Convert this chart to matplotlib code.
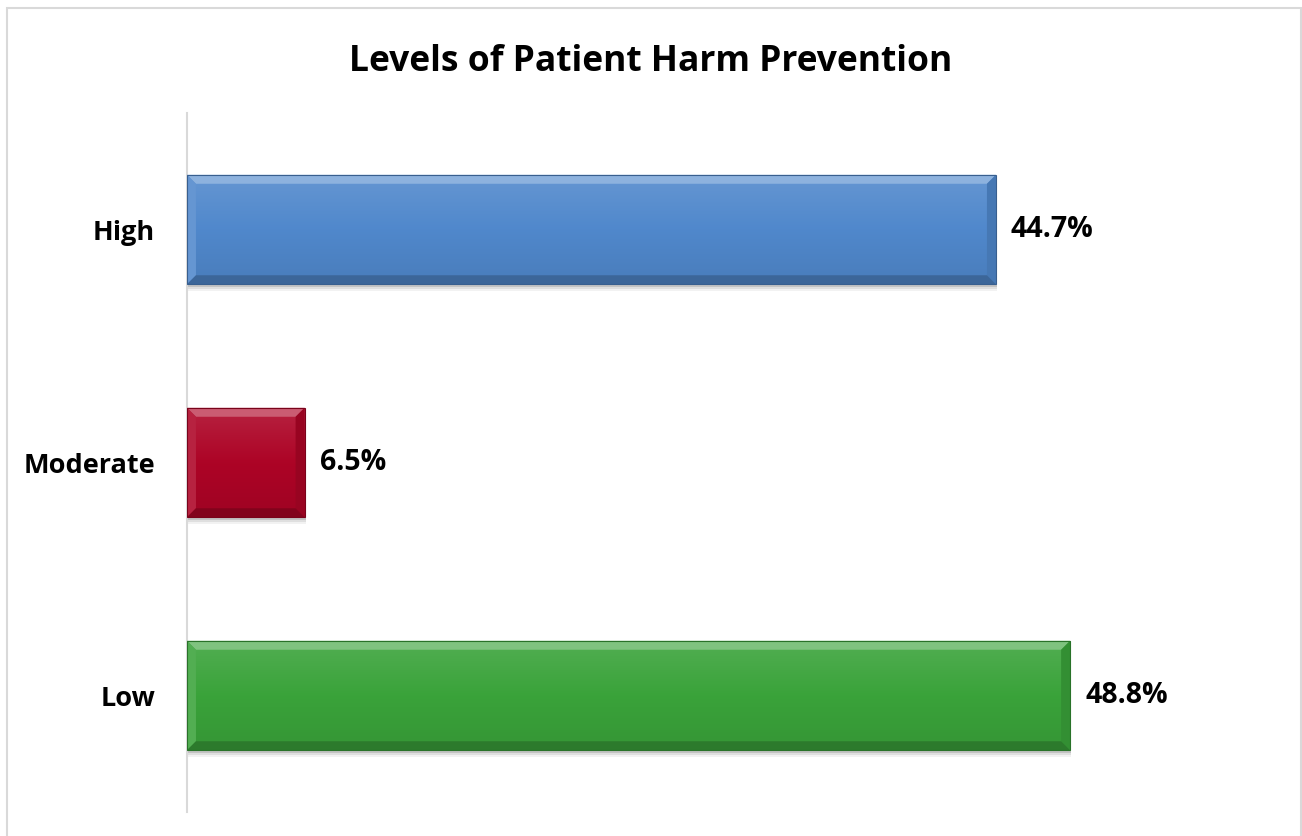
import matplotlib
matplotlib.use("Agg")
import matplotlib.pyplot as plt
import matplotlib.colors as mcolors
from matplotlib.patches import Polygon, Rectangle
import numpy as np

# Data
categories = ["High", "Moderate", "Low"]
values = [44.7, 6.5, 48.8]
labels = ["44.7%", "6.5%", "48.8%"]
bar_colors = ["#5088CC", "#AD0426", "#3AA33A"]

plt.rcParams["font.family"] = ["Open Sans", "DejaVu Sans"]

fig = plt.figure(figsize=(13.02, 8.36), dpi=100)
ax = fig.add_axes([0.1436, 0.0287, 0.834, 0.8361])

ypos = np.arange(len(categories))
bars = ax.barh(ypos, values, height=0.47, color=bar_colors, zorder=3)

ax.set_xlim(0, 60)
ax.set_ylim(2.5, -0.5)
ax.set_yticks(ypos)
ax.set_yticklabels(categories, fontsize=19.5, fontweight="bold")
ax.tick_params(axis="y", length=0, pad=23)
ax.set_xticks([])
for side in ["top", "right", "bottom"]:
    ax.spines[side].set_visible(False)
ax.spines["left"].set_color("#d9d9d9")
ax.spines["left"].set_linewidth(1.5)

# pixel -> data conversion for bevel sizes
fig.canvas.draw()
p0 = ax.transData.transform((0, 0))
p1 = ax.transData.transform((1, 1))
ux = 1 / abs(p1[0] - p0[0])
uy = 1 / abs(p1[1] - p0[1])


def shade(c, f):
    r, g, b = mcolors.to_rgb(c)
    if f > 0:
        return (r + (1 - r) * f, g + (1 - g) * f, b + (1 - b) * f)
    return (r * (1 + f), g * (1 + f), b * (1 + f))


for bar, c, lab in zip(bars, bar_colors, labels):
    x0, y0 = bar.get_x(), bar.get_y()
    w, h = bar.get_width(), bar.get_height()
    x1, y1 = x0 + w, y0 + h  # y0 is top (inverted axis)
    # vertical gradient on face
    grad = np.linspace(0, 1, 64).reshape(-1, 1)
    cmap = mcolors.LinearSegmentedColormap.from_list(
        "g", [shade(c, 0.12), c, shade(c, -0.08)])
    im = ax.imshow(grad, cmap=cmap, aspect="auto", extent=(x0, x1, y1, y0),
                   zorder=4, interpolation="bicubic")
    im.set_clip_path(bar)
    # soft shadow
    for k, a in [(7, 0.05), (5, 0.08), (3, 0.12)]:
        ax.add_patch(Rectangle((x0 + 1 * ux, y0 + k * uy), w, h, color="#000000",
                               alpha=a, zorder=2, lw=0))
    bx, by = 9 * ux, 9 * uy
    top = Polygon([(x0, y0), (x1, y0), (x1 - bx, y0 + by), (x0 + bx, y0 + by)],
                  closed=True, color=shade(c, 0.35), lw=0, zorder=5)
    left = Polygon([(x0, y0), (x0 + bx, y0 + by), (x0 + bx, y1 - by), (x0, y1)],
                   closed=True, color=shade(c, 0.12), lw=0, zorder=5)
    right = Polygon([(x1, y0), (x1 - bx, y0 + by), (x1 - bx, y1 - by), (x1, y1)],
                    closed=True, color=shade(c, -0.12), lw=0, zorder=5)
    bottom = Polygon([(x0, y1), (x1, y1), (x1 - bx, y1 - by), (x0 + bx, y1 - by)],
                     closed=True, color=shade(c, -0.25), lw=0, zorder=5)
    for pg in (top, left, right, bottom):
        ax.add_patch(pg)
    ax.add_patch(Rectangle((x0, y0), w, h, fill=False, ec=shade(c, -0.3),
                           lw=0.8, zorder=6))
    ax.text(x1 + 15 * ux, y0 + h / 2, lab, va="center", ha="left",
            fontsize=20.5, fontweight="bold", zorder=7)

fig.text(0.5, 0.926, "Levels of Patient Harm Prevention", ha="center",
         va="center", fontsize=25.5, fontweight="bold")

# figure frame
fig.patches.append(Rectangle((0.005, -0.01), 0.994, 1.001, transform=fig.transFigure,
                             fill=False, ec="#d9d9d9", lw=1.5))

fig.savefig("out.png", dpi=100)
